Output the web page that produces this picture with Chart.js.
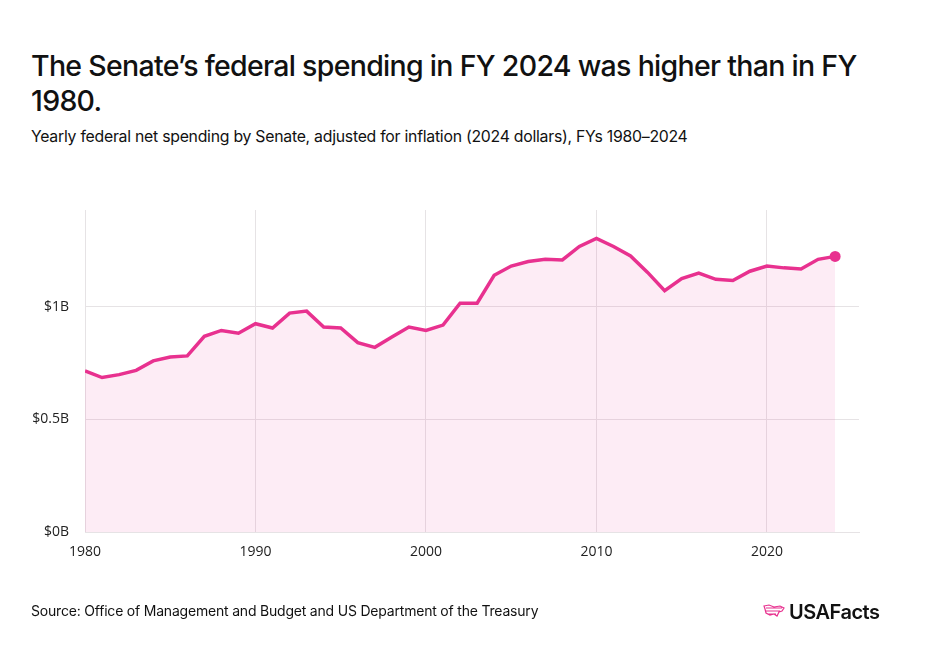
<!DOCTYPE html>
<html>
<head>
<meta charset="utf-8">
<script src="https://cdn.jsdelivr.net/npm/chart.js@4"></script>
<style>
  body { margin: 0; background: #fff; font-family: Inter, "Noto Sans", sans-serif; color: #111; }
  #wrap { position: relative; width: 929px; height: 661px; overflow: hidden; }
  #chartBox { position: absolute; left: 0; top: 0; width: 929px; height: 661px; }
  h1 { position: absolute; left: 31px; top: 48px; margin: 0; font-size: 28.5px; font-weight: 500; line-height: 35px; letter-spacing: -0.7px; }
  .sub { position: absolute; left: 31px; top: 127px; font-size: 15.8px; letter-spacing: -0.25px; }
  .src { position: absolute; left: 31px; top: 602px; font-size: 14px; letter-spacing: -0.2px; }
  .logo { position: absolute; left: 762px; top: 600px; font-size: 20px; font-weight: 600; letter-spacing: -0.5px; display: flex; align-items: center; }
  .logo svg { margin-right: 3px; }
</style>
</head>
<body>
<div id="wrap">
  <h1>The Senate’s federal spending in FY 2024 was higher than in FY<br>1980.</h1>
  <div class="sub">Yearly federal net spending by Senate, adjusted for inflation (2024 dollars), FYs 1980–2024</div>
  <div id="chartBox"><canvas id="spendChart"></canvas></div>
  <div class="src">Source: Office of Management and Budget and US Department of the Treasury</div>
  <div class="logo">
    <svg width="24" height="18" viewBox="0 0 24 18"><path d="M2 3 L7 2 L12 4 L18 3 L22 5 L20 8 L17 9 L15 13 L12 11 L8 12 L4 10 L3 6 Z M4 5 L20 5 M4 8 L18 8 M6 11 L14 11" fill="none" stroke="#e8318f" stroke-width="1.2"/></svg>
    <span>USAFacts</span>
  </div>
</div>
<script>
const years = [1980, 1981, 1982, 1983, 1984, 1985, 1986, 1987, 1988, 1989,
               1990, 1991, 1992, 1993, 1994, 1995, 1996, 1997, 1998, 1999,
               2000, 2001, 2002, 2003, 2004, 2005, 2006, 2007, 2008, 2009,
               2010, 2011, 2012, 2013, 2014, 2015, 2016, 2017, 2018, 2019,
               2020, 2021, 2022, 2023, 2024];
// billions of 2024 dollars
const spending = [0.715, 0.686, 0.699, 0.718, 0.760, 0.777, 0.782, 0.869, 0.895, 0.883,
                  0.925, 0.906, 0.972, 0.981, 0.910, 0.906, 0.841, 0.820, 0.866, 0.910,
                  0.895, 0.919, 1.016, 1.016, 1.140, 1.181, 1.201, 1.211, 1.208, 1.268,
                  1.304, 1.268, 1.226, 1.153, 1.072, 1.125, 1.150, 1.122, 1.117, 1.158,
                  1.181, 1.173, 1.168, 1.211, 1.224];
const xTicks = [1980, 1990, 2000, 2010, 2020];
const yTicks = [0, 0.5, 1];
const yLabels = ['$0B', '$0.5B', '$1B'];

const pink = '#e8318f';
const gridColor = '#e6e3e5';

const ctx = document.getElementById('spendChart').getContext('2d');
const spendChart = new Chart(ctx, {
    type: 'line',
    data: {
        datasets: [{
            data: years.map((y, i) => ({ x: y, y: spending[i] })),
            borderColor: pink,
            borderWidth: 3.5,
            backgroundColor: 'rgba(232, 49, 143, 0.09)',
            fill: 'origin',
            tension: 0,
            pointRadius: years.map((y, i) => i === years.length - 1 ? 5.5 : 0),
            pointBackgroundColor: pink,
            pointBorderWidth: 0
        }]
    },
    options: {
        responsive: true,
        maintainAspectRatio: false,
        animation: false,
        layout: { padding: { left: 0, top: 210, right: 70, bottom: 0 } },
        plugins: { legend: { display: false }, tooltip: { enabled: false } },
        scales: {
            x: {
                type: 'linear',
                min: 1980,
                max: 2025.4,
                afterBuildTicks: s => { s.ticks = xTicks.map(v => ({ value: v })); },
                afterFit: s => { s.height = 129; },
                grid: { color: gridColor, drawTicks: false, lineWidth: 1 },
                border: { color: gridColor },
                ticks: {
                    padding: 12,
                    maxRotation: 0,
                    color: '#222',
                    font: { family: 'Open Sans', size: 14 },
                    callback: v => String(v)
                }
            },
            y: {
                min: 0,
                max: 1.43,
                afterBuildTicks: s => { s.ticks = yTicks.map(v => ({ value: v })); },
                afterFit: s => { s.width = 85; },
                grid: { color: gridColor, drawTicks: false, lineWidth: 1 },
                border: { display: false },
                ticks: {
                    padding: 16,
                    color: '#222',
                    font: { family: 'Open Sans', size: 14 },
                    callback: v => yLabels[yTicks.indexOf(v)]
                }
            }
        }
    }
});
</script>
</body>
</html>
